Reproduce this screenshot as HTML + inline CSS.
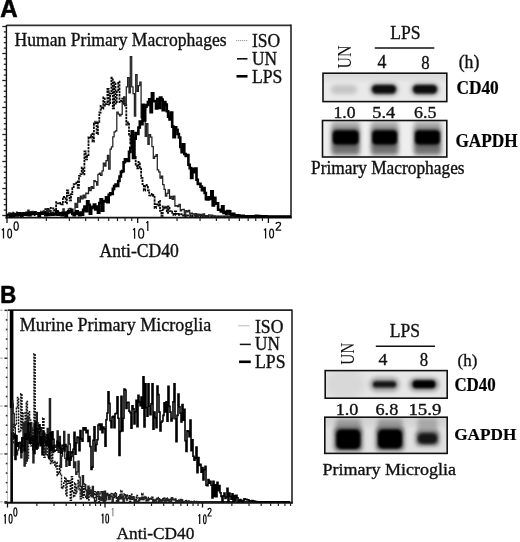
<!DOCTYPE html>
<html><head><meta charset="utf-8"><style>
html,body{margin:0;padding:0;background:#fff;}
svg{display:block;filter:grayscale(1) blur(0.3px);}
</style></head><body>
<svg width="520" height="542" viewBox="0 0 520 542">
<defs><filter id="b1" x="-50%" y="-50%" width="200%" height="200%"><feGaussianBlur stdDeviation="1.2"/></filter><filter id="b2" x="-50%" y="-50%" width="200%" height="200%"><feGaussianBlur stdDeviation="2.2"/></filter><filter id="b3" x="-50%" y="-50%" width="200%" height="200%"><feGaussianBlur stdDeviation="3.5"/></filter><filter id="b05" x="-50%" y="-50%" width="200%" height="200%"><feGaussianBlur stdDeviation="0.7"/></filter><clipPath id="c1"><rect x="323" y="73.2" width="123.80000000000001" height="28.39999999999999"/></clipPath><clipPath id="c2"><rect x="322.5" y="120.5" width="124.30000000000001" height="36.5"/></clipPath><clipPath id="c3"><rect x="325.2" y="370.6" width="122.0" height="27.599999999999966"/></clipPath><clipPath id="c4"><rect x="324.8" y="417.2" width="122.39999999999998" height="36.19999999999999"/></clipPath></defs>
<rect width="520" height="542" fill="#fff"/>
<text x="0.2" y="17.3" font-family='"Liberation Sans", sans-serif' font-size="26.54" font-weight="bold" fill="#000" stroke="#000" stroke-width="0.6" textLength="17.4" lengthAdjust="spacingAndGlyphs" >A</text>
<text x="0.2" y="302.5" font-family='"Liberation Sans", sans-serif' font-size="24.16" font-weight="bold" fill="#000" stroke="#000" stroke-width="0.6" textLength="16.0" lengthAdjust="spacingAndGlyphs" >B</text>
<line x1="6.50" y1="25.30" x2="291.00" y2="25.30" stroke="#333" stroke-width="1.8" />
<line x1="291.00" y1="24.50" x2="291.00" y2="218.00" stroke="#222" stroke-width="1.6" />
<line x1="6.40" y1="25.00" x2="6.40" y2="218.50" stroke="#111" stroke-width="1.4" />
<line x1="5.50" y1="217.60" x2="291.80" y2="217.60" stroke="#111" stroke-width="1.9" />
<line x1="2.30" y1="26.50" x2="6.40" y2="26.50" stroke="#222" stroke-width="1.3" />
<line x1="3.80" y1="31.90" x2="6.40" y2="31.90" stroke="#222" stroke-width="1.3" />
<line x1="3.80" y1="37.30" x2="6.40" y2="37.30" stroke="#222" stroke-width="1.3" />
<line x1="3.80" y1="42.70" x2="6.40" y2="42.70" stroke="#222" stroke-width="1.3" />
<line x1="3.80" y1="48.10" x2="6.40" y2="48.10" stroke="#222" stroke-width="1.3" />
<line x1="2.30" y1="53.50" x2="6.40" y2="53.50" stroke="#222" stroke-width="1.3" />
<line x1="3.80" y1="58.90" x2="6.40" y2="58.90" stroke="#222" stroke-width="1.3" />
<line x1="3.80" y1="64.30" x2="6.40" y2="64.30" stroke="#222" stroke-width="1.3" />
<line x1="3.80" y1="69.70" x2="6.40" y2="69.70" stroke="#222" stroke-width="1.3" />
<line x1="3.80" y1="75.10" x2="6.40" y2="75.10" stroke="#222" stroke-width="1.3" />
<line x1="2.30" y1="80.50" x2="6.40" y2="80.50" stroke="#222" stroke-width="1.3" />
<line x1="3.80" y1="85.90" x2="6.40" y2="85.90" stroke="#222" stroke-width="1.3" />
<line x1="3.80" y1="91.30" x2="6.40" y2="91.30" stroke="#222" stroke-width="1.3" />
<line x1="3.80" y1="96.70" x2="6.40" y2="96.70" stroke="#222" stroke-width="1.3" />
<line x1="3.80" y1="102.10" x2="6.40" y2="102.10" stroke="#222" stroke-width="1.3" />
<line x1="2.30" y1="107.50" x2="6.40" y2="107.50" stroke="#222" stroke-width="1.3" />
<line x1="3.80" y1="112.90" x2="6.40" y2="112.90" stroke="#222" stroke-width="1.3" />
<line x1="3.80" y1="118.30" x2="6.40" y2="118.30" stroke="#222" stroke-width="1.3" />
<line x1="3.80" y1="123.70" x2="6.40" y2="123.70" stroke="#222" stroke-width="1.3" />
<line x1="3.80" y1="129.10" x2="6.40" y2="129.10" stroke="#222" stroke-width="1.3" />
<line x1="2.30" y1="134.50" x2="6.40" y2="134.50" stroke="#222" stroke-width="1.3" />
<line x1="3.80" y1="139.90" x2="6.40" y2="139.90" stroke="#222" stroke-width="1.3" />
<line x1="3.80" y1="145.30" x2="6.40" y2="145.30" stroke="#222" stroke-width="1.3" />
<line x1="3.80" y1="150.70" x2="6.40" y2="150.70" stroke="#222" stroke-width="1.3" />
<line x1="3.80" y1="156.10" x2="6.40" y2="156.10" stroke="#222" stroke-width="1.3" />
<line x1="2.30" y1="161.50" x2="6.40" y2="161.50" stroke="#222" stroke-width="1.3" />
<line x1="3.80" y1="166.90" x2="6.40" y2="166.90" stroke="#222" stroke-width="1.3" />
<line x1="3.80" y1="172.30" x2="6.40" y2="172.30" stroke="#222" stroke-width="1.3" />
<line x1="3.80" y1="177.70" x2="6.40" y2="177.70" stroke="#222" stroke-width="1.3" />
<line x1="3.80" y1="183.10" x2="6.40" y2="183.10" stroke="#222" stroke-width="1.3" />
<line x1="2.30" y1="188.50" x2="6.40" y2="188.50" stroke="#222" stroke-width="1.3" />
<line x1="3.80" y1="193.90" x2="6.40" y2="193.90" stroke="#222" stroke-width="1.3" />
<line x1="3.80" y1="199.30" x2="6.40" y2="199.30" stroke="#222" stroke-width="1.3" />
<line x1="3.80" y1="204.70" x2="6.40" y2="204.70" stroke="#222" stroke-width="1.3" />
<line x1="3.80" y1="210.10" x2="6.40" y2="210.10" stroke="#222" stroke-width="1.3" />
<line x1="2.30" y1="215.50" x2="6.40" y2="215.50" stroke="#222" stroke-width="1.3" />
<line x1="7.00" y1="217.60" x2="7.00" y2="223.00" stroke="#111" stroke-width="1.3" />
<line x1="46.34" y1="217.60" x2="46.34" y2="221.00" stroke="#222" stroke-width="1.2" />
<line x1="69.36" y1="217.60" x2="69.36" y2="221.00" stroke="#222" stroke-width="1.2" />
<line x1="85.69" y1="217.60" x2="85.69" y2="221.00" stroke="#222" stroke-width="1.2" />
<line x1="98.36" y1="217.60" x2="98.36" y2="221.00" stroke="#222" stroke-width="1.2" />
<line x1="108.70" y1="217.60" x2="108.70" y2="221.00" stroke="#222" stroke-width="1.2" />
<line x1="117.45" y1="217.60" x2="117.45" y2="221.00" stroke="#222" stroke-width="1.2" />
<line x1="125.03" y1="217.60" x2="125.03" y2="221.00" stroke="#222" stroke-width="1.2" />
<line x1="131.72" y1="217.60" x2="131.72" y2="221.00" stroke="#222" stroke-width="1.2" />
<line x1="137.70" y1="217.60" x2="137.70" y2="223.00" stroke="#111" stroke-width="1.3" />
<line x1="177.04" y1="217.60" x2="177.04" y2="221.00" stroke="#222" stroke-width="1.2" />
<line x1="200.06" y1="217.60" x2="200.06" y2="221.00" stroke="#222" stroke-width="1.2" />
<line x1="216.39" y1="217.60" x2="216.39" y2="221.00" stroke="#222" stroke-width="1.2" />
<line x1="229.06" y1="217.60" x2="229.06" y2="221.00" stroke="#222" stroke-width="1.2" />
<line x1="239.40" y1="217.60" x2="239.40" y2="221.00" stroke="#222" stroke-width="1.2" />
<line x1="248.15" y1="217.60" x2="248.15" y2="221.00" stroke="#222" stroke-width="1.2" />
<line x1="255.73" y1="217.60" x2="255.73" y2="221.00" stroke="#222" stroke-width="1.2" />
<line x1="262.42" y1="217.60" x2="262.42" y2="221.00" stroke="#222" stroke-width="1.2" />
<line x1="268.40" y1="217.60" x2="268.40" y2="223.00" stroke="#111" stroke-width="1.3" />
<path d="M1.90,230.30L3.50,228.70V238.50" fill="none" stroke="#111" stroke-width="1.25" stroke-linejoin="round"/>
<ellipse cx="9.65" cy="233.45" rx="1.90" ry="4.40" fill="none" stroke="#111" stroke-width="1.3"/>
<ellipse cx="16.15" cy="226.05" rx="2.10" ry="4.20" fill="none" stroke="#111" stroke-width="1.3"/>
<path d="M133.00,230.10L134.60,228.50V238.70" fill="none" stroke="#111" stroke-width="1.25" stroke-linejoin="round"/>
<ellipse cx="141.15" cy="233.45" rx="2.50" ry="4.60" fill="none" stroke="#111" stroke-width="1.3"/>
<path d="M146.40,223.00L147.80,221.40V230.90" fill="none" stroke="#111" stroke-width="1.25" stroke-linejoin="round"/>
<path d="M264.00,230.40L265.60,228.80V238.40" fill="none" stroke="#111" stroke-width="1.25" stroke-linejoin="round"/>
<ellipse cx="271.60" cy="233.50" rx="1.95" ry="4.45" fill="none" stroke="#111" stroke-width="1.3"/>
<path d="M276.15,224.01C276.15,221.75 280.55,221.75 280.55,224.01C280.55,226.44 276.15,227.89 276.15,230.15H281.20" fill="none" stroke="#111" stroke-width="1.3"/>
<text x="99.6" y="256.9" font-family='"Liberation Serif", serif' font-size="18.03" font-weight="normal" fill="#111" stroke="#111" stroke-width="0.35" textLength="79.2" lengthAdjust="spacingAndGlyphs" >Anti-CD40</text>
<text x="14.6" y="45.7" font-family='"Liberation Serif", serif' font-size="18.64" font-weight="normal" fill="#111" stroke="#111" stroke-width="0.35" textLength="212.0" lengthAdjust="spacingAndGlyphs" >Human Primary Macrophages</text>
<text x="251.9" y="46.6" font-family='"Liberation Serif", serif' font-size="18.48" font-weight="normal" fill="#111" stroke="#111" stroke-width="0.35" textLength="28.2" lengthAdjust="spacingAndGlyphs" >ISO</text>
<text x="251.9" y="64.8" font-family='"Liberation Serif", serif' font-size="18.33" font-weight="normal" fill="#111" stroke="#111" stroke-width="0.35" textLength="25.0" lengthAdjust="spacingAndGlyphs" >UN</text>
<text x="251.9" y="83.2" font-family='"Liberation Serif", serif' font-size="18.79" font-weight="normal" fill="#111" stroke="#111" stroke-width="0.35" textLength="30.4" lengthAdjust="spacingAndGlyphs" >LPS</text>
<line x1="236.00" y1="40.60" x2="248.00" y2="40.60" stroke="#999" stroke-width="1.0" stroke-dasharray="1.2 0.8"/>
<line x1="237.00" y1="58.80" x2="247.50" y2="58.80" stroke="#111" stroke-width="1.6" />
<line x1="236.50" y1="76.30" x2="247.50" y2="76.30" stroke="#000" stroke-width="2.6" />
<line x1="7.70" y1="310.20" x2="292.00" y2="310.20" stroke="#222" stroke-width="1.8" />
<line x1="292.00" y1="309.50" x2="292.00" y2="503.50" stroke="#222" stroke-width="1.6" />
<line x1="7.40" y1="310.00" x2="7.40" y2="503.00" stroke="#bbb" stroke-width="1.0" />
<line x1="4.50" y1="502.80" x2="292.80" y2="502.80" stroke="#111" stroke-width="2.0" />
<line x1="0.30" y1="501.80" x2="2.60" y2="501.80" stroke="#b0b0b0" stroke-width="1.4" />
<line x1="4.40" y1="501.80" x2="7.40" y2="501.80" stroke="#333" stroke-width="1.5" />
<line x1="5.80" y1="492.23" x2="7.40" y2="492.23" stroke="#333" stroke-width="1.6" />
<line x1="5.80" y1="482.65" x2="7.40" y2="482.65" stroke="#333" stroke-width="1.6" />
<line x1="5.80" y1="473.08" x2="7.40" y2="473.08" stroke="#333" stroke-width="1.6" />
<line x1="5.80" y1="463.51" x2="7.40" y2="463.51" stroke="#333" stroke-width="1.6" />
<line x1="0.30" y1="453.94" x2="2.60" y2="453.94" stroke="#b0b0b0" stroke-width="1.4" />
<line x1="4.40" y1="453.94" x2="7.40" y2="453.94" stroke="#333" stroke-width="1.5" />
<line x1="5.80" y1="444.36" x2="7.40" y2="444.36" stroke="#333" stroke-width="1.6" />
<line x1="5.80" y1="434.79" x2="7.40" y2="434.79" stroke="#333" stroke-width="1.6" />
<line x1="5.80" y1="425.22" x2="7.40" y2="425.22" stroke="#333" stroke-width="1.6" />
<line x1="5.80" y1="415.64" x2="7.40" y2="415.64" stroke="#333" stroke-width="1.6" />
<line x1="0.30" y1="406.07" x2="2.60" y2="406.07" stroke="#b0b0b0" stroke-width="1.4" />
<line x1="4.40" y1="406.07" x2="7.40" y2="406.07" stroke="#333" stroke-width="1.5" />
<line x1="5.80" y1="396.50" x2="7.40" y2="396.50" stroke="#333" stroke-width="1.6" />
<line x1="5.80" y1="386.92" x2="7.40" y2="386.92" stroke="#333" stroke-width="1.6" />
<line x1="5.80" y1="377.35" x2="7.40" y2="377.35" stroke="#333" stroke-width="1.6" />
<line x1="5.80" y1="367.78" x2="7.40" y2="367.78" stroke="#333" stroke-width="1.6" />
<line x1="0.30" y1="358.21" x2="2.60" y2="358.21" stroke="#b0b0b0" stroke-width="1.4" />
<line x1="4.40" y1="358.21" x2="7.40" y2="358.21" stroke="#333" stroke-width="1.5" />
<line x1="5.80" y1="348.63" x2="7.40" y2="348.63" stroke="#333" stroke-width="1.6" />
<line x1="5.80" y1="339.06" x2="7.40" y2="339.06" stroke="#333" stroke-width="1.6" />
<line x1="5.80" y1="329.49" x2="7.40" y2="329.49" stroke="#333" stroke-width="1.6" />
<line x1="5.80" y1="319.91" x2="7.40" y2="319.91" stroke="#333" stroke-width="1.6" />
<line x1="0.30" y1="310.34" x2="2.60" y2="310.34" stroke="#b0b0b0" stroke-width="1.4" />
<line x1="4.40" y1="310.34" x2="7.40" y2="310.34" stroke="#333" stroke-width="1.5" />
<line x1="7.50" y1="502.80" x2="7.50" y2="507.50" stroke="#111" stroke-width="1.3" />
<line x1="36.85" y1="502.80" x2="36.85" y2="506.00" stroke="#222" stroke-width="1.2" />
<line x1="54.02" y1="502.80" x2="54.02" y2="506.00" stroke="#222" stroke-width="1.2" />
<line x1="66.20" y1="502.80" x2="66.20" y2="506.00" stroke="#222" stroke-width="1.2" />
<line x1="75.65" y1="502.80" x2="75.65" y2="506.00" stroke="#222" stroke-width="1.2" />
<line x1="83.37" y1="502.80" x2="83.37" y2="506.00" stroke="#222" stroke-width="1.2" />
<line x1="89.90" y1="502.80" x2="89.90" y2="506.00" stroke="#222" stroke-width="1.2" />
<line x1="95.55" y1="502.80" x2="95.55" y2="506.00" stroke="#222" stroke-width="1.2" />
<line x1="100.54" y1="502.80" x2="100.54" y2="506.00" stroke="#222" stroke-width="1.2" />
<line x1="105.00" y1="502.80" x2="105.00" y2="507.50" stroke="#111" stroke-width="1.3" />
<line x1="134.35" y1="502.80" x2="134.35" y2="506.00" stroke="#222" stroke-width="1.2" />
<line x1="151.52" y1="502.80" x2="151.52" y2="506.00" stroke="#222" stroke-width="1.2" />
<line x1="163.70" y1="502.80" x2="163.70" y2="506.00" stroke="#222" stroke-width="1.2" />
<line x1="173.15" y1="502.80" x2="173.15" y2="506.00" stroke="#222" stroke-width="1.2" />
<line x1="180.87" y1="502.80" x2="180.87" y2="506.00" stroke="#222" stroke-width="1.2" />
<line x1="187.40" y1="502.80" x2="187.40" y2="506.00" stroke="#222" stroke-width="1.2" />
<line x1="193.05" y1="502.80" x2="193.05" y2="506.00" stroke="#222" stroke-width="1.2" />
<line x1="198.04" y1="502.80" x2="198.04" y2="506.00" stroke="#222" stroke-width="1.2" />
<line x1="202.50" y1="502.80" x2="202.50" y2="507.50" stroke="#111" stroke-width="1.3" />
<line x1="231.85" y1="502.80" x2="231.85" y2="506.00" stroke="#222" stroke-width="1.2" />
<line x1="249.02" y1="502.80" x2="249.02" y2="506.00" stroke="#222" stroke-width="1.2" />
<line x1="261.20" y1="502.80" x2="261.20" y2="506.00" stroke="#222" stroke-width="1.2" />
<line x1="270.65" y1="502.80" x2="270.65" y2="506.00" stroke="#222" stroke-width="1.2" />
<line x1="278.37" y1="502.80" x2="278.37" y2="506.00" stroke="#222" stroke-width="1.2" />
<line x1="284.90" y1="502.80" x2="284.90" y2="506.00" stroke="#222" stroke-width="1.2" />
<line x1="290.55" y1="502.80" x2="290.55" y2="506.00" stroke="#222" stroke-width="1.2" />
<path d="M4.10,516.20L5.30,514.60V523.70" fill="none" stroke="#111" stroke-width="1.25" stroke-linejoin="round"/>
<ellipse cx="10.60" cy="518.75" rx="1.50" ry="4.35" fill="none" stroke="#111" stroke-width="1.2"/>
<ellipse cx="15.35" cy="512.05" rx="1.55" ry="4.15" fill="none" stroke="#111" stroke-width="1.2"/>
<path d="M101.70,515.60L102.90,514.00V523.50" fill="none" stroke="#111" stroke-width="1.25" stroke-linejoin="round"/>
<ellipse cx="107.20" cy="518.60" rx="1.40" ry="4.60" fill="none" stroke="#111" stroke-width="1.2"/>
<path d="M112.00,509.80L112.90,508.20V516.30" fill="none" stroke="#777" stroke-width="1.0" stroke-linejoin="round"/>
<path d="M198.50,516.20L199.70,514.60V524.00" fill="none" stroke="#111" stroke-width="1.25" stroke-linejoin="round"/>
<ellipse cx="204.80" cy="519.20" rx="1.30" ry="4.40" fill="none" stroke="#111" stroke-width="1.2"/>
<path d="M208.00,510.02C208.00,507.80 211.10,507.80 211.10,510.02C211.10,512.37 208.00,513.78 208.00,516.00H211.70" fill="none" stroke="#111" stroke-width="1.2"/>
<text x="116.5" y="539.4" font-family='"Liberation Serif", serif' font-size="17.58" font-weight="normal" fill="#111" stroke="#111" stroke-width="0.35" textLength="77.9" lengthAdjust="spacingAndGlyphs" >Anti-CD40</text>
<text x="19.8" y="330.8" font-family='"Liberation Serif", serif' font-size="19.09" font-weight="normal" fill="#111" stroke="#111" stroke-width="0.35" textLength="191.6" lengthAdjust="spacingAndGlyphs" >Murine Primary Microglia</text>
<text x="255.0" y="332.8" font-family='"Liberation Serif", serif' font-size="18.79" font-weight="normal" fill="#111" stroke="#111" stroke-width="0.35" textLength="28.4" lengthAdjust="spacingAndGlyphs" >ISO</text>
<text x="255.0" y="350.4" font-family='"Liberation Serif", serif' font-size="18.33" font-weight="normal" fill="#111" stroke="#111" stroke-width="0.35" textLength="24.8" lengthAdjust="spacingAndGlyphs" >UN</text>
<text x="255.0" y="367.7" font-family='"Liberation Serif", serif' font-size="18.64" font-weight="normal" fill="#111" stroke="#111" stroke-width="0.35" textLength="30.5" lengthAdjust="spacingAndGlyphs" >LPS</text>
<line x1="238.00" y1="325.80" x2="249.70" y2="325.80" stroke="#bbb" stroke-width="1.0" />
<line x1="239.80" y1="344.40" x2="250.80" y2="344.40" stroke="#111" stroke-width="1.5" />
<line x1="239.00" y1="361.80" x2="250.80" y2="361.80" stroke="#000" stroke-width="2.6" />
<text x="390.3" y="38.9" font-family='"Liberation Serif", serif' font-size="19.85" font-weight="normal" fill="#111" stroke="#111" stroke-width="0.35" textLength="30.3" lengthAdjust="spacingAndGlyphs" >LPS</text>
<line x1="374.80" y1="48.00" x2="434.30" y2="48.00" stroke="#111" stroke-width="1.6" />
<text x="377.5" y="68.2" font-family='"Liberation Serif", serif' font-size="18.05" font-weight="normal" fill="#111" stroke="#111" stroke-width="0.35" textLength="8.9" lengthAdjust="spacingAndGlyphs" >4</text>
<text x="421.3" y="68.6" font-family='"Liberation Serif", serif' font-size="18.34" font-weight="normal" fill="#111" stroke="#111" stroke-width="0.35" textLength="8.4" lengthAdjust="spacingAndGlyphs" >8</text>
<text x="458.7" y="68.4" font-family='"Liberation Serif", serif' font-size="18.49" font-weight="normal" fill="#111" stroke="#111" stroke-width="0.35" textLength="20.7" lengthAdjust="spacingAndGlyphs" >(h)</text>
<text transform="translate(351,68.6) rotate(-90)" x="0" y="0" font-family='"Liberation Serif", serif' font-size="17.8" fill="#111" textLength="23" lengthAdjust="spacingAndGlyphs">UN</text>
<text x="456.4" y="94.4" font-family='"Liberation Serif", serif' font-size="18.79" font-weight="bold" fill="#000" stroke="#000" stroke-width="0.2" textLength="42.4" lengthAdjust="spacingAndGlyphs" >CD40</text>
<text x="333.5" y="118.2" font-family='"Liberation Serif", serif' font-size="16.57" font-weight="normal" fill="#111" stroke="#111" stroke-width="0.35" textLength="22.0" lengthAdjust="spacingAndGlyphs" >1.0</text>
<text x="372.3" y="118.2" font-family='"Liberation Serif", serif' font-size="16.57" font-weight="normal" fill="#111" stroke="#111" stroke-width="0.35" textLength="22.9" lengthAdjust="spacingAndGlyphs" >5.4</text>
<text x="414.0" y="118.2" font-family='"Liberation Serif", serif' font-size="16.57" font-weight="normal" fill="#111" stroke="#111" stroke-width="0.35" textLength="22.4" lengthAdjust="spacingAndGlyphs" >6.5</text>
<text x="455.4" y="146.6" font-family='"Liberation Serif", serif' font-size="19.70" font-weight="bold" fill="#000" stroke="#000" stroke-width="0.2" textLength="62.2" lengthAdjust="spacingAndGlyphs" >GAPDH</text>
<text x="311.0" y="173.7" font-family='"Liberation Serif", serif' font-size="17.88" font-weight="normal" fill="#111" stroke="#111" stroke-width="0.35" textLength="153.6" lengthAdjust="spacingAndGlyphs" >Primary Macrophages</text>
<text x="389.8" y="336.7" font-family='"Liberation Serif", serif' font-size="19.09" font-weight="normal" fill="#111" stroke="#111" stroke-width="0.35" textLength="30.2" lengthAdjust="spacingAndGlyphs" >LPS</text>
<line x1="375.80" y1="346.20" x2="435.00" y2="346.20" stroke="#111" stroke-width="1.6" />
<text x="378.5" y="365.3" font-family='"Liberation Serif", serif' font-size="16.57" font-weight="normal" fill="#111" stroke="#111" stroke-width="0.35" textLength="8.9" lengthAdjust="spacingAndGlyphs" >4</text>
<text x="419.7" y="365.8" font-family='"Liberation Serif", serif' font-size="18.05" font-weight="normal" fill="#111" stroke="#111" stroke-width="0.35" textLength="8.4" lengthAdjust="spacingAndGlyphs" >8</text>
<text x="457.6" y="366.3" font-family='"Liberation Serif", serif' font-size="17.75" font-weight="normal" fill="#111" stroke="#111" stroke-width="0.35" textLength="19.7" lengthAdjust="spacingAndGlyphs" >(h)</text>
<text transform="translate(353.7,364.8) rotate(-90)" x="0" y="0" font-family='"Liberation Serif", serif' font-size="17.8" fill="#111" textLength="22" lengthAdjust="spacingAndGlyphs">UN</text>
<text x="454.4" y="390.8" font-family='"Liberation Serif", serif' font-size="18.33" font-weight="bold" fill="#000" stroke="#000" stroke-width="0.2" textLength="41.3" lengthAdjust="spacingAndGlyphs" >CD40</text>
<text x="335.7" y="414.9" font-family='"Liberation Serif", serif' font-size="16.86" font-weight="normal" fill="#111" stroke="#111" stroke-width="0.35" textLength="22.8" lengthAdjust="spacingAndGlyphs" >1.0</text>
<text x="375.5" y="414.9" font-family='"Liberation Serif", serif' font-size="16.86" font-weight="normal" fill="#111" stroke="#111" stroke-width="0.35" textLength="22.8" lengthAdjust="spacingAndGlyphs" >6.8</text>
<text x="408.4" y="415.0" font-family='"Liberation Serif", serif' font-size="17.01" font-weight="normal" fill="#111" stroke="#111" stroke-width="0.35" textLength="33.1" lengthAdjust="spacingAndGlyphs" >15.9</text>
<text x="454.2" y="439.9" font-family='"Liberation Serif", serif' font-size="17.42" font-weight="bold" fill="#000" stroke="#000" stroke-width="0.2" textLength="62.3" lengthAdjust="spacingAndGlyphs" >GAPDH</text>
<text x="322.4" y="474.7" font-family='"Liberation Serif", serif' font-size="17.58" font-weight="normal" fill="#111" stroke="#111" stroke-width="0.35" textLength="133.6" lengthAdjust="spacingAndGlyphs" >Primary Microglia</text>
<g clip-path="url(#c1)">
<rect x="323.00" y="73.20" width="123.80" height="28.40" fill="#e9e9e9" stroke="none" stroke-width="1" />
<rect x="320.0" y="71.0" width="130.0" height="8.0" rx="4.0" fill="#d6d6d6" opacity="1" filter="url(#b3)"/>
<rect x="331.0" y="85.0" width="26.0" height="9.0" rx="4.5" fill="#c4c4c4" opacity="1" filter="url(#b2)"/>
<rect x="370.0" y="83.5" width="28.0" height="12.0" rx="6.0" fill="#888" opacity="1" filter="url(#b2)"/>
<rect x="372.0" y="85.0" width="24.0" height="8.5" rx="4.2" fill="#0a0a0a" opacity="1" filter="url(#b1)"/>
<rect x="411.0" y="83.5" width="28.0" height="12.0" rx="6.0" fill="#888" opacity="1" filter="url(#b2)"/>
<rect x="413.0" y="85.0" width="24.0" height="8.5" rx="4.2" fill="#0a0a0a" opacity="1" filter="url(#b1)"/>
</g>
<rect x="323.00" y="73.20" width="123.80" height="28.40" fill="none" stroke="#111" stroke-width="1.6" />
<g clip-path="url(#c2)">
<rect x="322.50" y="120.50" width="124.30" height="36.50" fill="#eeeeee" stroke="none" stroke-width="1" />
<rect x="331.4" y="121.5" width="28.5" height="12.0" rx="3.0" fill="#a8a8a8" opacity="1" filter="url(#b2)"/>
<rect x="331.4" y="143.0" width="28.5" height="12.0" rx="3.0" fill="#747474" opacity="1" filter="url(#b2)"/>
<rect x="331.9" y="129.3" width="27.5" height="16.4" rx="4.0" fill="#333" opacity="1" filter="url(#b2)"/>
<rect x="332.9" y="130.8" width="25.5" height="13.4" rx="4.0" fill="#050505" opacity="1" filter="url(#b1)"/>
<rect x="370.9" y="121.5" width="27.5" height="12.0" rx="3.0" fill="#a8a8a8" opacity="1" filter="url(#b2)"/>
<rect x="370.9" y="143.0" width="27.5" height="12.0" rx="3.0" fill="#747474" opacity="1" filter="url(#b2)"/>
<rect x="371.4" y="129.3" width="26.5" height="16.4" rx="4.0" fill="#333" opacity="1" filter="url(#b2)"/>
<rect x="372.4" y="130.8" width="24.5" height="13.4" rx="4.0" fill="#050505" opacity="1" filter="url(#b1)"/>
<rect x="413.8" y="121.5" width="27.5" height="12.0" rx="3.0" fill="#a8a8a8" opacity="1" filter="url(#b2)"/>
<rect x="413.8" y="143.0" width="27.5" height="12.0" rx="3.0" fill="#747474" opacity="1" filter="url(#b2)"/>
<rect x="414.2" y="129.3" width="26.5" height="16.4" rx="4.0" fill="#333" opacity="1" filter="url(#b2)"/>
<rect x="415.2" y="130.8" width="24.5" height="13.4" rx="4.0" fill="#050505" opacity="1" filter="url(#b1)"/>
</g>
<rect x="322.50" y="120.50" width="124.30" height="36.50" fill="none" stroke="#111" stroke-width="1.6" />
<g clip-path="url(#c3)">
<rect x="325.20" y="370.60" width="122.00" height="27.60" fill="#e6e6e6" stroke="none" stroke-width="1" />
<rect x="325.0" y="369.0" width="40.0" height="30.0" rx="15.0" fill="#d8d8d8" opacity="1" filter="url(#b3)"/>
<rect x="369.5" y="377.5" width="30.0" height="14.0" rx="7.0" fill="#9a9a9a" opacity="1" filter="url(#b2)"/>
<rect x="373.0" y="381.2" width="23.0" height="6.3" rx="3.1" fill="#141414" opacity="1" filter="url(#b1)"/>
<rect x="409.0" y="378.0" width="30.0" height="13.0" rx="6.5" fill="#888" opacity="1" filter="url(#b2)"/>
<rect x="412.5" y="380.3" width="23.0" height="8.0" rx="4.0" fill="#050505" opacity="1" filter="url(#b1)"/>
</g>
<rect x="325.20" y="370.60" width="122.00" height="27.60" fill="none" stroke="#111" stroke-width="1.6" />
<g clip-path="url(#c4)">
<rect x="324.80" y="417.20" width="122.40" height="36.20" fill="#e0e0e0" stroke="none" stroke-width="1" />
<rect x="321.0" y="417.0" width="130.0" height="8.0" rx="4.0" fill="#cfcfcf" opacity="1" filter="url(#b3)"/>
<rect x="335.8" y="419.0" width="25.0" height="13.5" rx="3.0" fill="#9a9a9a" opacity="1" filter="url(#b2)"/>
<rect x="334.3" y="427.5" width="28.0" height="23.5" rx="4.0" fill="#555" opacity="1" filter="url(#b2)"/>
<rect x="336.3" y="429.5" width="24.0" height="19.5" rx="5.0" fill="#050505" opacity="1" filter="url(#b1)"/>
<rect x="377.5" y="419.0" width="25.0" height="13.5" rx="3.0" fill="#9a9a9a" opacity="1" filter="url(#b2)"/>
<rect x="376.0" y="427.5" width="28.0" height="23.0" rx="4.0" fill="#555" opacity="1" filter="url(#b2)"/>
<rect x="378.0" y="429.5" width="24.0" height="19.0" rx="5.0" fill="#050505" opacity="1" filter="url(#b1)"/>
<rect x="417.5" y="418.0" width="20.0" height="18.5" rx="3.0" fill="#a8a8a8" opacity="1" filter="url(#b2)"/>
<rect x="416.0" y="431.5" width="23.0" height="14.0" rx="4.0" fill="#555" opacity="1" filter="url(#b2)"/>
<rect x="418.0" y="433.5" width="19.0" height="10.0" rx="5.0" fill="#151515" opacity="1" filter="url(#b1)"/>
</g>
<rect x="324.80" y="417.20" width="122.40" height="36.20" fill="none" stroke="#111" stroke-width="1.6" />
<path d="M7.5,216.6V213.9H8.8V214.5H10.2V214.3H11.5V212.7H12.9V215.7H14.2V213.3H15.6V212.5H16.9V214.2H18.3V213.8H19.7V215.3H21.0V213.6H22.4V213.9H23.7V212.8H25.1V213.2H26.4V213.1H27.8V214.1H29.1V213.9H30.5V213.4H31.8V212.8H33.2V215.0H34.5V211.9H35.9V212.0H37.2V214.2H38.6V213.6H39.9V212.4H41.3V211.4H42.6V212.5H44.0V211.2H45.3V209.2H46.7V212.8H48.0V209.0H49.4V210.5H50.7V207.8H52.1V208.3H53.4V210.6H54.8V210.1H56.1V202.2H57.5V203.3H58.8V203.9H60.2V203.0H61.5V204.4H62.9V196.8H64.2V198.1H65.6V203.4H66.9V190.3H68.3V195.3H69.6V200.3H71.0V194.1H72.3V188.2H73.7V184.1H75.0V184.2H76.3V181.5H77.7V187.8H79.0V175.9H80.4V174.1H81.7V167.7H83.1V174.4H84.4V151.4H85.8V159.4H87.1V155.9H88.5V137.1H89.8V137.7H91.2V133.7H92.5V141.7H93.9V123.3H95.2V121.7H96.6V134.0H97.9V122.8H99.3V112.5H100.6V106.0H102.0V108.7H103.3V97.4H104.7V105.5H106.0V104.1H107.4V89.0H108.7V104.7H110.1V93.5H111.4V77.7H112.8V108.3H114.1V82.1H115.5V103.7H116.8V91.6H118.2V81.7H119.5V102.1H120.9V101.0H122.2V98.7H123.6V103.9H124.9V105.4H126.3V124.5H127.6V122.4H129.0V135.8H130.3V143.3H131.7V135.3H133.0V139.2H134.4V156.8H135.7V164.5H137.1V168.4H138.4V161.9H139.8V167.7H141.1V177.8H142.5V184.2H143.8V190.5H145.2V184.9H146.5V185.3H147.9V190.4H149.2V195.4H150.6V195.5H151.9V193.9H153.3V195.9H154.6V208.1H156.0V204.4H157.3V205.5H158.7V200.8H160.0V210.9H161.4V215.8H162.7V206.3H164.1V208.8H165.4V206.6H166.8V212.8H168.1V206.3H169.5V211.2H170.8V211.6H172.2V212.8H173.5V215.1H174.9V211.5H176.2V213.8H177.6V214.0H178.9V214.8H180.3V214.1H181.6V215.4H183.0V215.7H184.3V216.6H185.7V215.6H187.0V215.4H188.4V215.4H189.7V215.9H191.1V215.3H192.4V216.2H193.8V216.2H195.1V215.5H196.5V215.9H197.8V216.1H199.2V215.8H200.5V216.5H201.9V216.0H203.2V216.4H204.6V216.2H205.9V216.3H207.3V216.5H208.6V216.5H210.0V216.3H211.3V216.5H212.7V216.6H214.0V216.6H215.4V216.6H216.7V216.6H218.1V216.6H219.4V216.6H220.8V216.6H222.1V216.6H223.5V216.6H224.8V216.6H226.2V216.6H227.5V216.6H228.9V216.6H230.2V216.6H231.6V216.6H232.9V216.6H234.3V216.6H235.6V216.6H237.0V216.6H238.3V216.6H239.7V216.6H241.0V216.6H242.4V216.6H243.7V216.6H245.1V216.6H246.4V216.6H247.8V216.6H249.1V216.6H250.5V216.6H251.8V216.6H253.2V216.6H254.5V216.6H255.9V216.6H257.2V216.6H258.6V216.6H259.9V216.6H261.3V216.6H262.6V216.6H264.0V216.6H265.3V216.6H266.7V216.6H268.0V216.6H269.4V216.6H270.7V216.6H272.1V216.6H273.4V216.6H274.8V216.6H276.1V216.6H277.5V216.6H278.8V216.6H280.2V216.6H281.5V216.6H282.9V216.6H284.2V216.6H285.6V216.6H286.9V216.6H288.3V216.6H289.6V216.6H291.0V216.6" fill="none" stroke="#0a0a0a" stroke-width="1.8" stroke-linejoin="miter" stroke-miterlimit="2" stroke-dasharray="2.4 0.9"/>
<path d="M7.5,216.6V214.2H8.8V212.8H10.2V213.4H11.5V215.1H12.9V214.5H14.2V214.1H15.6V216.1H16.9V216.6H18.3V214.4H19.7V214.9H21.0V213.1H22.4V215.2H23.7V214.4H25.1V214.0H26.4V215.7H27.8V210.2H29.1V211.6H30.5V214.0H31.8V211.3H33.2V214.5H34.5V212.9H35.9V212.5H37.2V213.9H38.6V212.7H39.9V214.1H41.3V212.3H42.6V211.5H44.0V214.0H45.3V215.2H46.7V209.3H48.0V211.7H49.4V210.9H50.7V213.2H52.1V212.3H53.4V213.2H54.8V213.3H56.1V210.8H57.5V211.5H58.8V213.4H60.2V213.0H61.5V212.1H62.9V208.8H64.2V211.9H65.6V213.2H66.9V211.3H68.3V208.8H69.6V208.3H71.0V210.8H72.3V213.5H73.7V213.1H75.0V203.3H76.3V207.4H77.7V197.6H79.0V202.2H80.4V196.2H81.7V198.8H83.1V195.2H84.4V197.9H85.8V193.1H87.1V193.6H88.5V187.7H89.8V190.7H91.2V186.7H92.5V188.4H93.9V180.5H95.2V181.5H96.6V185.1H97.9V174.3H99.3V173.2H100.6V175.3H102.0V170.9H103.3V163.1H104.7V166.0H106.0V160.5H107.4V155.3H108.7V169.1H110.1V149.2H111.4V146.8H112.8V136.8H114.1V131.9H115.5V130.8H116.8V112.2H118.2V114.2H119.5V115.8H120.9V114.3H122.2V102.7H123.6V96.9H124.9V105.6H126.3V86.9H127.6V77.6H129.0V92.8H130.3V56.6H131.7V86.9H133.0V93.5H134.4V116.2H135.7V74.6H137.1V91.4H138.4V85.6H139.8V82.1H141.1V117.5H142.5V110.8H143.8V110.9H145.2V136.3H146.5V123.5H147.9V144.4H149.2V134.7H150.6V137.2H151.9V146.5H153.3V158.4H154.6V156.3H156.0V154.7H157.3V169.8H158.7V171.9H160.0V178.2H161.4V176.0H162.7V184.6H164.1V189.3H165.4V196.0H166.8V193.3H168.1V189.9H169.5V198.4H170.8V196.3H172.2V199.3H173.5V196.2H174.9V206.0H176.2V205.7H177.6V206.5H178.9V204.4H180.3V210.8H181.6V209.5H183.0V209.3H184.3V214.9H185.7V210.5H187.0V211.9H188.4V210.4H189.7V214.1H191.1V213.1H192.4V213.8H193.8V214.6H195.1V213.6H196.5V216.6H197.8V214.2H199.2V215.3H200.5V214.4H201.9V215.8H203.2V213.9H204.6V215.8H205.9V215.7H207.3V215.9H208.6V214.9H210.0V215.0H211.3V215.0H212.7V216.0H214.0V215.8H215.4V216.1H216.7V216.2H218.1V216.2H219.4V216.5H220.8V216.0H222.1V216.0H223.5V216.2H224.8V216.2H226.2V216.0H227.5V216.4H228.9V216.4H230.2V216.5H231.6V216.5H232.9V216.6H234.3V216.6H235.6V216.6H237.0V216.6H238.3V216.6H239.7V216.6H241.0V216.6H242.4V216.6H243.7V216.6H245.1V216.6H246.4V216.6H247.8V216.6H249.1V216.6H250.5V216.6H251.8V216.6H253.2V216.6H254.5V216.6H255.9V216.6H257.2V216.6H258.6V216.6H259.9V216.6H261.3V216.6H262.6V216.6H264.0V216.6H265.3V216.6H266.7V216.6H268.0V216.6H269.4V216.6H270.7V216.6H272.1V216.6H273.4V216.6H274.8V216.6H276.1V216.6H277.5V216.6H278.8V216.6H280.2V216.6H281.5V216.6H282.9V216.6H284.2V216.6H285.6V216.6H286.9V216.6H288.3V216.6H289.6V216.6H291.0V216.6" fill="none" stroke="#222" stroke-width="1.25" stroke-linejoin="miter" stroke-miterlimit="2" />
<path d="M7.5,216.6V215.2H8.8V215.2H10.2V216.4H11.5V214.7H12.9V215.7H14.2V214.8H15.6V214.7H16.9V214.7H18.3V213.4H19.7V214.4H21.0V215.7H22.4V213.5H23.7V214.8H25.1V214.8H26.4V212.8H27.8V213.5H29.1V215.2H30.5V213.4H31.8V213.3H33.2V214.0H34.5V213.1H35.9V213.6H37.2V213.4H38.6V215.7H39.9V213.6H41.3V213.3H42.6V213.7H44.0V213.3H45.3V215.3H46.7V214.1H48.0V214.9H49.4V213.7H50.7V214.1H52.1V214.6H53.4V214.1H54.8V214.4H56.1V211.2H57.5V214.6H58.8V213.8H60.2V213.3H61.5V215.2H62.9V213.1H64.2V213.4H65.6V215.9H66.9V213.0H68.3V211.3H69.6V212.1H71.0V209.9H72.3V214.0H73.7V215.3H75.0V213.0H76.3V211.4H77.7V213.8H79.0V215.1H80.4V212.6H81.7V214.7H83.1V209.7H84.4V206.6H85.8V211.3H87.1V201.4H88.5V204.7H89.8V213.8H91.2V208.0H92.5V206.8H93.9V204.5H95.2V209.5H96.6V206.6H97.9V212.8H99.3V203.0H100.6V199.4H102.0V210.8H103.3V201.4H104.7V201.1H106.0V197.3H107.4V202.1H108.7V194.9H110.1V193.2H111.4V194.0H112.8V188.9H114.1V186.1H115.5V184.6H116.8V185.9H118.2V181.0H119.5V176.5H120.9V171.9H122.2V171.1H123.6V162.3H124.9V159.3H126.3V159.8H127.6V161.0H129.0V151.9H130.3V147.7H131.7V131.4H133.0V158.0H134.4V138.6H135.7V133.1H137.1V133.9H138.4V127.5H139.8V121.6H141.1V124.3H142.5V104.9H143.8V120.5H145.2V106.6H146.5V105.0H147.9V102.1H149.2V99.3H150.6V112.2H151.9V93.4H153.3V101.0H154.6V101.2H156.0V108.4H157.3V99.1H158.7V107.9H160.0V97.5H161.4V99.5H162.7V110.2H164.1V102.0H165.4V104.5H166.8V111.3H168.1V116.8H169.5V119.4H170.8V112.5H172.2V126.6H173.5V137.2H174.9V127.2H176.2V129.9H177.6V134.0H178.9V137.5H180.3V146.9H181.6V152.3H183.0V144.3H184.3V154.0H185.7V156.0H187.0V155.0H188.4V164.7H189.7V168.1H191.1V178.0H192.4V168.7H193.8V172.3H195.1V168.5H196.5V179.7H197.8V183.9H199.2V183.7H200.5V186.6H201.9V190.1H203.2V188.0H204.6V193.0H205.9V199.3H207.3V199.5H208.6V197.4H210.0V198.9H211.3V191.3H212.7V205.5H214.0V197.7H215.4V203.7H216.7V203.2H218.1V209.7H219.4V209.7H220.8V211.5H222.1V206.3H223.5V213.0H224.8V211.7H226.2V213.9H227.5V211.0H228.9V211.3H230.2V214.2H231.6V215.0H232.9V213.7H234.3V215.2H235.6V215.8H237.0V215.3H238.3V215.5H239.7V215.9H241.0V215.9H242.4V215.8H243.7V216.2H245.1V216.3H246.4V216.6H247.8V216.5H249.1V216.3H250.5V216.3H251.8V216.5H253.2V216.4H254.5V216.4H255.9V215.9H257.2V216.3H258.6V216.0H259.9V216.3H261.3V216.2H262.6V216.4H264.0V216.2H265.3V216.4H266.7V216.5H268.0V216.6H269.4V216.6H270.7V216.6H272.1V216.6H273.4V216.6H274.8V216.6H276.1V216.6H277.5V216.6H278.8V216.6H280.2V216.6H281.5V216.6H282.9V216.6H284.2V216.6H285.6V216.6H286.9V216.6H288.3V216.6H289.6V216.6H291.0V216.6" fill="none" stroke="#000" stroke-width="2.6" stroke-linejoin="miter" stroke-miterlimit="2" />
<path d="M12.0,501.8V442.8H13.1V424.4H14.2V425.5H15.3V423.9H16.4V408.3H17.5V397.4H18.6V431.7H19.7V431.5H20.8V393.8H21.9V429.3H23.0V412.8H24.1V413.0H25.2V463.1H26.3V401.6H27.4V458.0H28.5V411.7H29.6V419.9H30.7V445.8H31.8V428.1H32.9V439.8H34.0V353.8H35.1V422.6H36.2V448.9H37.3V423.0H38.4V433.5H39.5V442.7H40.6V436.3H41.7V431.1H42.8V418.1H43.9V457.3H45.0V433.3H46.1V444.1H47.2V454.9H48.3V458.6H49.4V458.9H50.5V463.5H51.6V448.2H52.7V462.8H53.8V461.5H54.9V466.7H56.0V462.4H57.1V475.4H58.2V473.1H59.3V464.3H60.4V474.0H61.5V488.6H62.6V486.8H63.7V482.9H64.8V477.4H65.9V495.7H67.0V479.9H68.1V483.3H69.2V481.0H70.3V500.3H71.4V476.8H72.5V492.6H73.6V496.7H74.7V483.1H75.8V493.4H76.9V487.7H78.0V480.6H79.1V489.5H80.2V498.8H81.3V490.4H82.4V497.6H83.5V486.4H84.6V495.0H85.7V498.4H86.8V494.1H87.9V499.9H89.0V488.2H90.1V495.5H91.2V491.1H92.3V493.0H93.4V494.6H94.5V491.8H95.6V497.6H96.7V494.0H97.8V496.6H98.9V501.8H100.0V492.1H101.1V491.7H102.2V496.4H103.3V497.5H104.4V495.3H105.5V501.1H106.6V496.4H107.7V495.2H108.8V498.7H109.9V493.6H111.0V493.7H112.1V494.8H113.2V498.6H114.3V492.8H115.4V498.0H116.5V501.0H117.6V498.4H118.7V495.3H119.8V498.9H120.9V490.6H122.0V497.9H123.1V496.0H124.2V493.7H125.3V495.8H126.4V497.2H127.5V495.3H128.6V495.8H129.7V501.4H130.8V494.3H131.9V498.6H133.0V497.7H134.1V499.5H135.2V501.8H136.3V495.5H137.4V498.0H138.5V500.3H139.6V498.1H140.7V497.6H141.8V493.6H142.9V499.4H144.0V498.2H145.1V496.6H146.2V501.1H147.3V500.1H148.4V497.4H149.5V499.5H150.6V498.4H151.7V497.2H152.8V499.6H153.9V501.6H155.0V501.2H156.1V498.7H157.2V497.5H158.3V501.2H159.4V499.8H160.5V499.6H161.6V501.0H162.7V498.0H163.8V498.2H164.9V500.8H166.0V497.9H167.1V499.8H168.2V499.2H169.3V501.1H170.4V499.2H171.5V498.0H172.6V499.7H173.7V499.7H174.8V499.0H175.9V501.0H177.0V500.0H178.1V501.7H179.2V501.8H180.3V499.5H181.4V499.8H182.5V500.9H183.6V501.8H184.7V500.9H185.8V500.8H186.9V500.6H188.0V500.9H189.1V500.9H190.2V501.4H191.3V501.6H192.4V501.5H193.5V501.5H194.6V501.1H195.7V501.4H196.8V501.7H197.9V501.8H199.0V501.8H200.1V501.8H201.2V501.8H202.3V501.8H203.4V501.8H204.5V501.8H205.6V501.8H206.7V501.8H207.8V501.8H208.9V501.8H210.0V501.8H211.1V501.8H212.2V501.8H213.3V501.8H214.4V501.8H215.5V501.8H216.6V501.8H217.7V501.8H218.8V501.8H219.9V501.8H221.0V501.8H222.1V501.8H223.2V501.8H224.3V501.8H225.4V501.8H226.5V501.8H227.6V501.8H228.7V501.8H229.8V501.8H230.9V501.8H232.0V501.8H233.1V501.8H234.2V501.8H235.3V501.8H236.4V501.8H237.5V501.8H238.6V501.8H239.7V501.8H240.8V501.8H241.9V501.8H243.0V501.8H244.1V501.8H245.2V501.8H246.3V501.8H247.4V501.8H248.5V501.8H249.6V501.8H250.7V501.8H251.8V501.8H252.9V501.8H254.0V501.8H255.1V501.8H256.2V501.8H257.3V501.8H258.4V501.8H259.5V501.8H260.6V501.8H261.7V501.8H262.8V501.8H263.9V501.8H265.0V501.8H266.1V501.8H267.2V501.8H268.3V501.8H269.4V501.8H270.5V501.8H271.6V501.8H272.7V501.8H273.8V501.8H274.9V501.8H276.0V501.8H277.1V501.8H278.2V501.8H279.3V501.8H280.4V501.8H281.5V501.8H282.6V501.8H283.7V501.8H284.8V501.8H285.9V501.8H287.0V501.8H288.1V501.8H289.2V501.8H290.3V501.8" fill="none" stroke="#111" stroke-width="1.5" stroke-linejoin="miter" stroke-miterlimit="2" stroke-dasharray="2 1.0"/>
<path d="M12.0,501.8V403.8H13.1V413.5H14.2V427.8H15.3V435.2H16.4V454.7H17.5V450.1H18.6V443.3H19.7V442.3H20.8V457.8H21.9V438.0H23.0V422.9H24.1V466.0H25.2V421.4H26.3V461.0H27.4V416.4H28.5V443.3H29.6V432.2H30.7V422.8H31.8V438.7H32.9V462.9H34.0V424.6H35.1V445.9H36.2V412.5H37.3V448.0H38.4V443.1H39.5V431.8H40.6V427.8H41.7V444.6H42.8V435.3H43.9V448.6H45.0V454.3H46.1V445.8H47.2V428.5H48.3V447.3H49.4V398.8H50.5V440.4H51.6V445.9H52.7V452.6H53.8V445.1H54.9V447.4H56.0V445.2H57.1V431.0H58.2V452.3H59.3V436.5H60.4V467.2H61.5V456.0H62.6V448.7H63.7V431.5H64.8V458.4H65.9V466.2H67.0V454.4H68.1V434.4H69.2V444.0H70.3V460.2H71.4V456.6H72.5V452.4H73.6V467.6H74.7V461.9H75.8V474.4H76.9V471.9H78.0V461.3H79.1V477.1H80.2V486.4H81.3V494.2H82.4V475.7H83.5V484.0H84.6V484.8H85.7V490.1H86.8V496.7H87.9V486.2H89.0V492.2H90.1V490.3H91.2V496.7H92.3V486.5H93.4V497.8H94.5V501.3H95.6V500.5H96.7V492.6H97.8V491.6H98.9V498.8H100.0V497.8H101.1V500.4H102.2V491.6H103.3V501.5H104.4V491.2H105.5V499.1H106.6V493.5H107.7V494.5H108.8V499.6H109.9V495.4H111.0V496.5H112.1V501.2H113.2V497.1H114.3V493.6H115.4V493.8H116.5V497.7H117.6V501.7H118.7V498.5H119.8V495.1H120.9V498.9H122.0V497.0H123.1V501.3H124.2V498.1H125.3V495.2H126.4V500.0H127.5V498.3H128.6V497.2H129.7V497.3H130.8V499.2H131.9V499.4H133.0V496.8H134.1V501.8H135.2V499.5H136.3V501.5H137.4V501.8H138.5V500.9H139.6V499.5H140.7V498.1H141.8V499.6H142.9V497.7H144.0V497.1H145.1V498.6H146.2V499.0H147.3V500.9H148.4V498.9H149.5V499.0H150.6V498.5H151.7V499.2H152.8V501.3H153.9V500.3H155.0V500.4H156.1V499.2H157.2V498.9H158.3V498.6H159.4V501.8H160.5V499.9H161.6V501.1H162.7V499.5H163.8V500.5H164.9V501.2H166.0V499.7H167.1V500.9H168.2V499.8H169.3V501.3H170.4V501.8H171.5V497.9H172.6V499.3H173.7V499.2H174.8V500.1H175.9V501.2H177.0V501.8H178.1V500.8H179.2V501.5H180.3V500.0H181.4V501.4H182.5V501.4H183.6V501.4H184.7V501.7H185.8V501.7H186.9V501.7H188.0V501.7H189.1V501.8H190.2V501.8H191.3V501.8H192.4V501.8H193.5V501.8H194.6V501.8H195.7V501.8H196.8V501.8H197.9V501.8H199.0V501.8H200.1V501.8H201.2V501.8H202.3V501.8H203.4V501.8H204.5V501.8H205.6V501.8H206.7V501.8H207.8V501.8H208.9V501.8H210.0V501.8H211.1V501.8H212.2V501.8H213.3V501.8H214.4V501.8H215.5V501.8H216.6V501.8H217.7V501.8H218.8V501.8H219.9V501.8H221.0V501.8H222.1V501.8H223.2V501.8H224.3V501.8H225.4V501.8H226.5V501.8H227.6V501.8H228.7V501.8H229.8V501.8H230.9V501.8H232.0V501.8H233.1V501.8H234.2V501.8H235.3V501.8H236.4V501.8H237.5V501.8H238.6V501.8H239.7V501.8H240.8V501.8H241.9V501.8H243.0V501.8H244.1V501.8H245.2V501.8H246.3V501.8H247.4V501.8H248.5V501.8H249.6V501.8H250.7V501.8H251.8V501.8H252.9V501.8H254.0V501.8H255.1V501.8H256.2V501.8H257.3V501.8H258.4V501.8H259.5V501.8H260.6V501.8H261.7V501.8H262.8V501.8H263.9V501.8H265.0V501.8H266.1V501.8H267.2V501.8H268.3V501.8H269.4V501.8H270.5V501.8H271.6V501.8H272.7V501.8H273.8V501.8H274.9V501.8H276.0V501.8H277.1V501.8H278.2V501.8H279.3V501.8H280.4V501.8H281.5V501.8H282.6V501.8H283.7V501.8H284.8V501.8H285.9V501.8H287.0V501.8H288.1V501.8H289.2V501.8H290.3V501.8" fill="none" stroke="#222" stroke-width="1.4" stroke-linejoin="miter" stroke-miterlimit="2" />
<path d="M12.0,501.8V433.0H13.0V437.9H14.0V434.0H15.0V459.5H16.0V435.9H17.0V446.3H18.0V442.9H19.0V442.7H20.0V447.9H21.0V452.1H22.0V437.8H23.0V445.7H24.0V450.9H25.0V434.1H26.0V439.2H27.0V438.9H28.0V423.1H29.0V423.9H30.0V443.1H31.0V439.6H32.0V436.4H33.0V449.8H34.0V453.5H35.0V422.1H36.0V448.7H37.0V444.9H38.0V428.8H39.0V424.7H40.0V445.7H41.0V436.7H42.0V454.6H43.0V432.0H44.0V436.8H45.0V442.0H46.0V445.3H47.0V434.7H48.0V439.9H49.0V458.2H50.0V432.8H51.0V450.5H52.0V431.8H53.0V439.2H54.0V451.3H55.0V450.2H56.0V450.2H57.0V441.2H58.0V446.4H59.0V443.0H60.0V448.3H61.0V453.4H62.0V445.4H63.0V445.3H64.0V451.0H65.0V444.5H66.0V446.4H67.0V459.6H68.0V451.9H69.0V465.3H70.0V457.9H71.0V452.6H72.0V451.8H73.0V449.2H74.0V432.3H75.0V454.2H76.0V442.9H77.0V437.1H78.0V437.6H79.0V450.6H80.0V430.5H81.0V438.9H82.0V441.1H83.0V427.9H84.0V430.0H85.0V427.8H86.0V432.8H87.0V430.4H88.0V441.5H89.0V436.6H90.0V446.5H91.0V469.4H92.0V467.1H93.0V440.2H94.0V426.8H95.0V451.0H96.0V444.4H97.0V439.8H98.0V425.0H99.0V424.1H100.0V429.7H101.0V424.1H102.0V432.7H103.0V427.0H104.0V428.8H105.0V446.1H106.0V419.7H107.0V413.0H108.0V391.8H109.0V403.4H110.0V420.8H111.0V427.8H112.0V417.1H113.0V416.3H114.0V427.8H115.0V413.8H116.0V413.3H117.0V396.9H118.0V418.3H119.0V455.4H120.0V431.4H121.0V396.3H122.0V431.0H123.0V418.3H124.0V389.0H125.0V390.0H126.0V408.4H127.0V402.5H128.0V402.2H129.0V411.2H130.0V412.7H131.0V428.1H132.0V405.8H133.0V408.9H134.0V423.9H135.0V411.7H136.0V400.2H137.0V426.7H138.0V395.2H139.0V401.9H140.0V405.8H141.0V397.0H142.0V408.1H143.0V376.8H144.0V427.0H145.0V383.8H146.0V407.6H147.0V416.3H148.0V383.8H149.0V406.2H150.0V414.6H151.0V403.9H152.0V383.8H153.0V429.2H154.0V412.0H155.0V417.6H156.0V427.6H157.0V386.1H158.0V394.6H159.0V412.1H160.0V431.0H161.0V422.3H162.0V421.0H163.0V415.4H164.0V402.9H165.0V412.0H166.0V401.7H167.0V421.3H168.0V386.4H169.0V406.4H170.0V412.1H171.0V421.0H172.0V418.5H173.0V401.9H174.0V383.8H175.0V418.7H176.0V441.7H177.0V415.4H178.0V394.1H179.0V406.8H180.0V413.3H181.0V421.9H182.0V404.6H183.0V420.2H184.0V409.2H185.0V440.8H186.0V451.4H187.0V430.9H188.0V431.5H189.0V436.6H190.0V420.0H191.0V450.7H192.0V439.9H193.0V456.3H194.0V460.3H195.0V458.1H196.0V447.0H197.0V472.6H198.0V457.5H199.0V465.5H200.0V464.3H201.0V472.1H202.0V467.5H203.0V479.9H204.0V469.6H205.0V466.2H206.0V485.1H207.0V485.8H208.0V479.6H209.0V483.3H210.0V481.2H211.0V485.3H212.0V497.9H213.0V481.3H214.0V496.4H215.0V484.7H216.0V496.6H217.0V482.2H218.0V490.6H219.0V485.6H220.0V492.7H221.0V496.4H222.0V501.8H223.0V495.9H224.0V493.0H225.0V498.5H226.0V497.0H227.0V488.2H228.0V501.8H229.0V493.1H230.0V496.3H231.0V499.2H232.0V493.8H233.0V501.4H234.0V495.5H235.0V500.1H236.0V495.3H237.0V497.7H238.0V501.8H239.0V500.2H240.0V499.5H241.0V501.1H242.0V501.6H243.0V500.4H244.0V498.8H245.0V499.5H246.0V499.3H247.0V499.9H248.0V499.9H249.0V500.7H250.0V501.1H251.0V501.3H252.0V500.6H253.0V501.5H254.0V501.1H255.0V501.5H256.0V501.6H257.0V501.7H258.0V501.8H259.0V501.8H260.0V501.8H261.0V501.8H262.0V501.8H263.0V501.8H264.0V501.8H265.0V501.8H266.0V501.8H267.0V501.8H268.0V501.8H269.0V501.8H270.0V501.8H271.0V501.8H272.0V501.8H273.0V501.8H274.0V501.8H275.0V501.8H276.0V501.8H277.0V501.8H278.0V501.8H279.0V501.8H280.0V501.8H281.0V501.8H282.0V501.8H283.0V501.8H284.0V501.8H285.0V501.8H286.0V501.8H287.0V501.8H288.0V501.8H289.0V501.8H290.0V501.8" fill="none" stroke="#000" stroke-width="1.6" stroke-linejoin="miter" stroke-miterlimit="2" />
<rect x="9.80" y="310.00" width="3.60" height="98.00" fill="#000" stroke="none" stroke-width="1" />
<line x1="11.00" y1="400.00" x2="11.00" y2="503.00" stroke="#000" stroke-width="1.3" />
<line x1="12.80" y1="400.00" x2="12.80" y2="456.00" stroke="#222" stroke-width="1.2" />
</svg>
</body></html>
